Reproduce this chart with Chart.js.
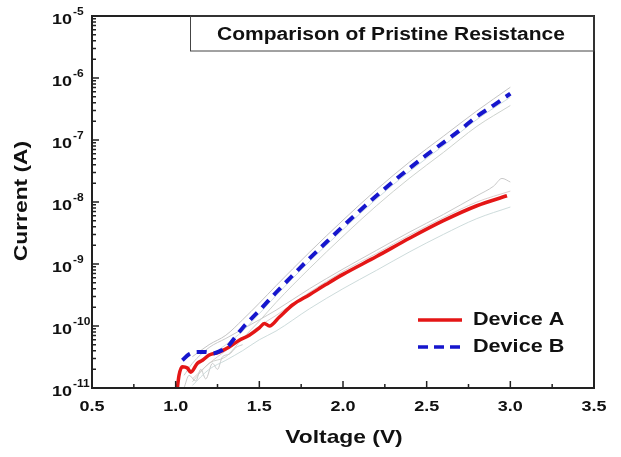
<!DOCTYPE html>
<html lang="en">
<head>
<meta charset="UTF-8">
<title>Comparison of Pristine Resistance</title>
<script src="https://cdn.jsdelivr.net/npm/chart.js@4.4.0/dist/chart.umd.min.js"></script>
<style>
    body { margin: 0; background: #fff; }
    #wrap { width: 621px; height: 457px; }
</style>
</head>
<body>
<div id="wrap"><canvas id="myChart"></canvas></div>
<script>
// voltage (V) / current (A)
var vB = [1.04, 1.08, 1.13, 1.18, 1.22, 1.27, 1.31, 1.35, 1.40, 1.50, 1.60, 1.70, 1.80, 1.90, 2.00, 2.10, 2.20, 2.30, 2.40, 2.50, 2.60, 2.70, 2.80, 2.90, 3.00];
var iB = [2.8e-11, 3.5e-11, 3.8e-11, 3.8e-11, 3.6e-11, 4.0e-11, 4.6e-11, 6.3e-11, 9.3e-11, 1.78e-10, 3.47e-10, 6.6e-10, 1.23e-9, 2.24e-9, 4.07e-9, 7.24e-9, 1.26e-8, 2.14e-8, 3.55e-8, 5.75e-8, 9.1e-8, 1.45e-7, 2.4e-7, 3.63e-7, 5.6e-7];

var vA = [1.01, 1.02, 1.04, 1.07, 1.09, 1.13, 1.16, 1.20, 1.26, 1.32, 1.38, 1.44, 1.50, 1.53, 1.56, 1.62, 1.70, 1.80, 1.90, 2.00, 2.20, 2.40, 2.60, 2.80, 2.98];
var iA = [1.0e-11, 1.6e-11, 2.2e-11, 2.1e-11, 1.8e-11, 2.5e-11, 2.8e-11, 3.4e-11, 3.8e-11, 4.6e-11, 5.9e-11, 7.1e-11, 9.3e-11, 1.1e-10, 1.0e-10, 1.4e-10, 2.2e-10, 3.2e-10, 4.7e-10, 6.8e-10, 1.32e-9, 2.63e-9, 5.0e-9, 8.7e-9, 1.26e-8];

// grey repeat sweeps
var vGrey = [1.10, 1.20, 1.30, 1.40, 1.50, 1.60, 1.80, 2.00, 2.20, 2.40, 2.60, 2.80, 3.00];
var iB1 = [3.2e-11, 5.0e-11, 7.1e-11, 1.26e-10, 2.34e-10, 4.47e-10, 1.55e-9, 5.1e-9, 1.58e-8, 4.47e-8, 1.15e-7, 2.95e-7, 7.1e-7];
var iB2 = [1.26e-11, 2.5e-11, 3.2e-11, 6.3e-11, 1.2e-10, 2.4e-10, 8.5e-10, 2.8e-9, 8.7e-9, 2.45e-8, 6.3e-8, 1.66e-7, 3.6e-7];
var iB3 = [2.0e-11, 3.2e-11, 5.0e-11, 8.3e-11, 1.58e-10, 3.1e-10, 1.1e-9, 3.6e-9, 1.12e-8, 3.16e-8, 8.1e-8, 2.14e-7, 4.9e-7];
var iA2 = [1.1e-11, 2.0e-11, 2.8e-11, 4.0e-11, 6.0e-11, 8.3e-11, 1.9e-10, 4.0e-10, 7.9e-10, 1.58e-9, 3.0e-9, 5.4e-9, 8.3e-9];
var iA3 = [1.4e-11, 2.5e-11, 4.0e-11, 6.3e-11, 1.0e-10, 1.48e-10, 3.5e-10, 7.6e-10, 1.48e-9, 2.95e-9, 5.6e-9, 1.0e-8, 1.5e-8];
var vA1 = [1.05, 1.10, 1.20, 1.30, 1.40, 1.50, 1.60, 1.80, 2.00, 2.20, 2.40, 2.60, 2.70, 2.80, 2.90, 2.95, 3.00];
var iA1 = [1.6e-11, 2.5e-11, 4.5e-11, 6.3e-11, 8.9e-11, 1.26e-10, 1.8e-10, 4.0e-10, 8.3e-10, 1.66e-9, 3.3e-9, 6.3e-9, 8.9e-9, 1.26e-8, 1.8e-8, 2.4e-8, 2.1e-8];
var vLow = [1.05, 1.08, 1.12, 1.15, 1.18, 1.22, 1.25, 1.28, 1.32, 1.36, 1.40];
var iLow = [1.0e-11, 1.6e-11, 1.3e-11, 2.0e-11, 1.4e-11, 2.5e-11, 2.0e-11, 3.2e-11, 3.5e-11, 4.5e-11, 5.0e-11];

var xTicks = [0.5, 1.0, 1.5, 2.0, 2.5, 3.0, 3.5];
var yExp = [-11, -10, -9, -8, -7, -6, -5];

function pts(vs, is) {
    var out = [];
    for (var i = 0; i < vs.length; i++) out.push({x: vs[i], y: is[i]});
    return out;
}
function grey(vs, is, c) {
    return { data: pts(vs, is), borderColor: c, borderWidth: 1, pointRadius: 0, cubicInterpolationMode: 'monotone' };
}

var SX = 1.2; // reference lettering is wide
function txt(ctx, s, x, y, font, align, rot) {
    ctx.save();
    ctx.translate(x, y);
    if (rot) ctx.rotate(rot);
    ctx.scale(SX, 1);
    ctx.font = font;
    ctx.textAlign = align;
    ctx.textBaseline = 'middle';
    ctx.fillStyle = '#111';
    ctx.fillText(s, 0, 0);
    ctx.restore();
}

var framePlugin = {
    id: 'frame',
    afterDraw: function(chart) {
        var ctx = chart.ctx, a = chart.chartArea;
        var xs = chart.scales.x, ys = chart.scales.y;
        ctx.save();
        ctx.strokeStyle = '#222';
        ctx.lineWidth = 2;
        ctx.strokeRect(a.left, a.top, a.right - a.left, a.bottom - a.top);

        // inward ticks
        ctx.lineWidth = 1.5;
        ctx.beginPath();
        for (var i = 0; i < xTicks.length; i++) {
            var px = xs.getPixelForValue(xTicks[i]);
            ctx.moveTo(px, a.bottom); ctx.lineTo(px, a.bottom - 7);
            if (i < xTicks.length - 1) {
                var pm = xs.getPixelForValue(xTicks[i] + 0.25);
                ctx.moveTo(pm, a.bottom); ctx.lineTo(pm, a.bottom - 4);
            }
        }
        for (var j = 0; j < yExp.length; j++) {
            var base = Math.pow(10, yExp[j]);
            var py = ys.getPixelForValue(base);
            ctx.moveTo(a.left, py); ctx.lineTo(a.left + 7, py);
            if (j < yExp.length - 1) {
                for (var m = 2; m <= 9; m++) {
                    var pmy = ys.getPixelForValue(base * m);
                    ctx.moveTo(a.left, pmy); ctx.lineTo(a.left + 4, pmy);
                }
            }
        }
        ctx.stroke();

        // tick labels
        for (i = 0; i < xTicks.length; i++) {
            txt(ctx, xTicks[i].toFixed(1), xs.getPixelForValue(xTicks[i]), a.bottom + 19, 'bold 15px "Liberation Sans", Arial', 'center');
        }
        for (j = 0; j < yExp.length; j++) {
            var ty = ys.getPixelForValue(Math.pow(10, yExp[j]));
            txt(ctx, '10', 72, ty + 4, 'bold 15px "Liberation Sans", Arial', 'right');
            txt(ctx, String(yExp[j]), 73, ty - 4, 'bold 10px "Liberation Sans", Arial', 'left');
        }

        // axis titles
        txt(ctx, 'Voltage (V)', (a.left + a.right) / 2 + 1, 438, 'bold 19px "Liberation Sans", Arial', 'center');
        txt(ctx, 'Current (A)', 22, 201, 'bold 19px "Liberation Sans", Arial', 'center', -Math.PI / 2);

        // title box
        ctx.lineWidth = 1;
        ctx.strokeStyle = '#444';
        ctx.strokeRect(190.5, a.top, a.right - 190.5, 35);
        txt(ctx, 'Comparison of Pristine Resistance', 391, 35, 'bold 17.5px "Liberation Sans", Arial', 'center');

        // legend
        ctx.lineWidth = 3.5;
        ctx.strokeStyle = 'rgb(228,22,22)';
        ctx.beginPath(); ctx.moveTo(418, 320); ctx.lineTo(462, 320); ctx.stroke();
        ctx.strokeStyle = 'rgb(22,22,205)';
        ctx.setLineDash([10, 6]);
        ctx.beginPath(); ctx.moveTo(418, 347); ctx.lineTo(464, 347); ctx.stroke();
        ctx.setLineDash([]);
        txt(ctx, 'Device A', 473, 320, 'bold 18px "Liberation Sans", Arial', 'left');
        txt(ctx, 'Device B', 473, 347, 'bold 18px "Liberation Sans", Arial', 'left');
        ctx.restore();
    }
};

const ctx = document.getElementById('myChart').getContext('2d');
const myChart = new Chart(ctx, {
    type: 'line',
    data: {
        datasets: [
            { label: 'Device B', data: pts(vB, iB), borderColor: 'rgb(22,22,205)', borderWidth: 4, borderDash: [10, 7], pointRadius: 0, cubicInterpolationMode: 'monotone' },
            { label: 'Device A', data: pts(vA, iA), borderColor: 'rgb(228,22,22)', borderWidth: 3.5, pointRadius: 0, cubicInterpolationMode: 'monotone' },
            grey(vGrey, iB1, 'rgba(190,190,190,0.9)'),
            grey(vGrey, iB2, 'rgba(200,205,200,0.9)'),
            grey(vGrey, iB3, 'rgba(200,215,220,0.9)'),
            grey(vA1, iA1, 'rgba(195,195,195,0.9)'),
            grey(vGrey, iA2, 'rgba(200,215,215,0.9)'),
            grey(vGrey, iA3, 'rgba(215,200,200,0.9)'),
            grey(vLow, iLow, 'rgba(195,195,195,0.9)')
        ]
    },
    options: {
        responsive: true,
        maintainAspectRatio: false,
        animation: false,
        layout: { padding: { left: 92, top: 16, right: 27, bottom: 69 } },
        plugins: { legend: { display: false }, tooltip: { enabled: false } },
        scales: {
            x: { type: 'linear', min: 0.5, max: 3.5, display: false },
            y: { type: 'logarithmic', min: 1e-11, max: 1e-5, display: false }
        }
    },
    plugins: [framePlugin]
});
</script>
</body>
</html>
